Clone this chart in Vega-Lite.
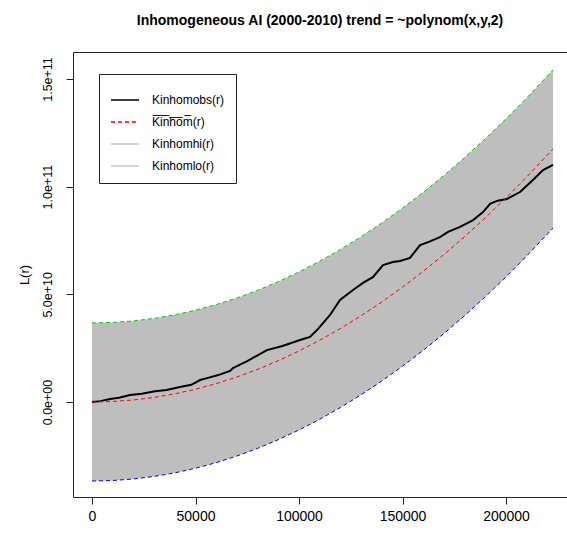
{
  "$schema": "https://vega.github.io/schema/vega-lite/v6.json",
  "width": 494,
  "height": 445,
  "autosize": {"type": "none"},
  "padding": {"left": 73, "top": 52, "right": 0, "bottom": 36},
  "background": "white",
  "title": {
    "text": "Inhomogeneous AI (2000-2010) trend = ~polynom(x,y,2)",
    "fontSize": 14,
    "fontWeight": "bold",
    "font": "Liberation Sans",
    "color": "black",
    "anchor": "middle",
    "offset": 24
  },
  "config": {
    "view": {"stroke": null},
    "font": "Liberation Sans",
    "axis": {
      "grid": false,
      "domainColor": "#222222",
      "tickColor": "#222222",
      "labelColor": "black",
      "titleColor": "black",
      "tickSize": 7,
      "labelFont": "Liberation Sans",
      "titleFont": "Liberation Sans",
      "titleFontWeight": "normal"
    }
  },
  "datasets": {
    "env": [
      {"r": 0, "theo": 0, "hi": 36700000000, "lo": -36700000000},
      {"r": 10000, "theo": 237000000, "hi": 36940000000, "lo": -36460000000},
      {"r": 20000, "theo": 948000000, "hi": 37650000000, "lo": -35750000000},
      {"r": 30000, "theo": 2130000000, "hi": 38830000000, "lo": -34570000000},
      {"r": 40000, "theo": 3790000000, "hi": 40490000000, "lo": -32910000000},
      {"r": 50000, "theo": 5930000000, "hi": 42630000000, "lo": -30770000000},
      {"r": 60000, "theo": 8530000000, "hi": 45230000000, "lo": -28170000000},
      {"r": 70000, "theo": 11610000000, "hi": 48310000000, "lo": -25090000000},
      {"r": 80000, "theo": 15170000000, "hi": 51870000000, "lo": -21530000000},
      {"r": 90000, "theo": 19200000000, "hi": 55900000000, "lo": -17500000000},
      {"r": 100000, "theo": 23700000000, "hi": 60400000000, "lo": -13000000000},
      {"r": 110000, "theo": 28680000000, "hi": 65380000000, "lo": -8020000000},
      {"r": 120000, "theo": 34130000000, "hi": 70830000000, "lo": -2570000000},
      {"r": 130000, "theo": 40050000000, "hi": 76750000000, "lo": 3350000000},
      {"r": 140000, "theo": 46450000000, "hi": 83150000000, "lo": 9750000000},
      {"r": 150000, "theo": 53330000000, "hi": 90030000000, "lo": 16630000000},
      {"r": 160000, "theo": 60670000000, "hi": 97370000000, "lo": 23970000000},
      {"r": 170000, "theo": 68490000000, "hi": 105190000000, "lo": 31790000000},
      {"r": 180000, "theo": 76790000000, "hi": 113490000000, "lo": 40090000000},
      {"r": 190000, "theo": 85560000000, "hi": 122260000000, "lo": 48860000000},
      {"r": 200000, "theo": 94800000000, "hi": 131500000000, "lo": 58100000000},
      {"r": 210000, "theo": 104520000000, "hi": 141220000000, "lo": 67820000000},
      {"r": 220000, "theo": 114710000000, "hi": 151410000000, "lo": 78010000000},
      {"r": 222700, "theo": 117540000000, "hi": 154240000000, "lo": 80840000000}
    ],
    "observed": [
      {"r": 0, "obs": 0},
      {"r": 4000, "obs": 400000000},
      {"r": 8700, "obs": 1400000000},
      {"r": 13000, "obs": 2000000000},
      {"r": 18400, "obs": 3200000000},
      {"r": 24000, "obs": 3800000000},
      {"r": 30400, "obs": 5000000000},
      {"r": 36000, "obs": 5600000000},
      {"r": 42500, "obs": 7000000000},
      {"r": 48000, "obs": 8000000000},
      {"r": 52200, "obs": 10200000000},
      {"r": 55600, "obs": 11100000000},
      {"r": 61000, "obs": 12500000000},
      {"r": 66700, "obs": 14400000000},
      {"r": 68100, "obs": 15800000000},
      {"r": 75000, "obs": 19000000000},
      {"r": 84500, "obs": 24100000000},
      {"r": 92000, "obs": 26000000000},
      {"r": 100500, "obs": 28800000000},
      {"r": 105300, "obs": 30200000000},
      {"r": 108700, "obs": 33400000000},
      {"r": 115000, "obs": 40400000000},
      {"r": 119800, "obs": 47400000000},
      {"r": 126100, "obs": 52000000000},
      {"r": 130900, "obs": 55300000000},
      {"r": 135700, "obs": 58000000000},
      {"r": 140600, "obs": 63600000000},
      {"r": 145400, "obs": 65000000000},
      {"r": 148800, "obs": 65500000000},
      {"r": 153600, "obs": 66900000000},
      {"r": 158500, "obs": 72900000000},
      {"r": 163000, "obs": 74500000000},
      {"r": 168100, "obs": 76600000000},
      {"r": 172000, "obs": 79000000000},
      {"r": 177800, "obs": 81300000000},
      {"r": 184100, "obs": 84500000000},
      {"r": 188900, "obs": 88200000000},
      {"r": 192300, "obs": 92000000000},
      {"r": 196000, "obs": 93500000000},
      {"r": 200500, "obs": 94300000000},
      {"r": 206800, "obs": 97500000000},
      {"r": 213000, "obs": 103100000000},
      {"r": 217900, "obs": 107700000000},
      {"r": 222700, "obs": 110100000000}
    ]
  },
  "resolve": {"axis": {"x": "independent"}},
  "layer": [
    {
      "data": {"name": "env"},
      "mark": {"type": "area", "color": "#bebebe", "opacity": 1},
      "encoding": {
        "x": {
          "field": "r", "type": "quantitative",
          "scale": {"domain": [-9179, 229468], "nice": false, "zero": false},
          "axis": {
            "orient": "bottom",
            "values": [0, 50000, 100000, 150000, 200000],
            "format": "d",
            "labelFontSize": 14,
            "labelPadding": 5,
            "title": null
          }
        },
        "y": {
          "field": "lo", "type": "quantitative",
          "scale": {"domain": [-44120000000, 162540000000], "nice": false, "zero": false},
          "axis": {
            "values": [0, 50000000000, 100000000000, 150000000000],
            "labelExpr": "datum.value == 0 ? '0.0e+00' : format(datum.value, '.1e')",
            "labelAngle": -90,
            "labelAlign": "center",
            "labelBaseline": "bottom",
            "labelPadding": 12,
            "labelFontSize": 12.5,
            "title": "L(r)",
            "titleFontSize": 13,
            "titlePadding": 10
          }
        },
        "y2": {"field": "hi"}
      }
    },
    {
      "data": {"name": "env"},
      "mark": {"type": "line", "color": "#00cd00", "strokeWidth": 1, "strokeDash": [4, 3]},
      "encoding": {
        "x": {"field": "r", "type": "quantitative", "axis": null},
        "y": {"field": "hi", "type": "quantitative"}
      }
    },
    {
      "data": {"name": "env"},
      "mark": {"type": "line", "color": "#0000ff", "strokeWidth": 1, "strokeDash": [4, 3]},
      "encoding": {
        "x": {"field": "r", "type": "quantitative", "axis": null},
        "y": {"field": "lo", "type": "quantitative"}
      }
    },
    {
      "data": {"name": "observed"},
      "transform": [{"fold": ["obs"], "as": ["series", "value"]}],
      "mark": {"type": "line", "strokeWidth": 2},
      "encoding": {
        "x": {"field": "r", "type": "quantitative", "axis": null},
        "y": {"field": "value", "type": "quantitative"},
        "stroke": {
          "field": "series", "type": "nominal",
          "scale": {"domain": ["obs", "theo", "hi", "lo"], "range": ["#000000", "#ff0000", "#c8c8c8", "#c8c8c8"]},
          "legend": {
            "orient": "none",
            "legendX": 26,
            "legendY": 22,
            "title": null,
            "strokeColor": "#222222",
            "fillColor": "white",
            "padding": 11,
            "symbolType": "stroke",
            "symbolSize": 784,
            "symbolStrokeWidth": 1.5,
            "labelFontSize": 12,
            "labelColor": "black",
            "labelOffset": 12,
            "rowPadding": 1,
            "labelExpr": "datum.label == 'obs' ? 'Kinhomobs(r)' : datum.label == 'theo' ? 'K\u0305i\u0305n\u0305h\u0305o\u0305m\u0305(r)' : datum.label == 'hi' ? 'Kinhomhi(r)' : 'Kinhomlo(r)'",
            "encode": {
              "symbols": {
                "update": {
                  "stroke": {"scale": "stroke", "field": "value"},
                  "strokeDash": {"signal": "datum.value == 'theo' ? [4, 3] : [1, 0]"}
                }
              }
            }
          }
        }
      }
    },
    {
      "data": {"name": "env"},
      "transform": [{"fold": ["theo"], "as": ["series", "value"]}],
      "mark": {"type": "line", "strokeWidth": 1, "strokeDash": [4, 3]},
      "encoding": {
        "x": {"field": "r", "type": "quantitative", "axis": null},
        "y": {"field": "value", "type": "quantitative"},
        "stroke": {"field": "series", "type": "nominal"}
      }
    },
    {
      "data": {"name": "env"},
      "mark": {"type": "point", "opacity": 0},
      "encoding": {
        "x": {
          "field": "r", "type": "quantitative",
          "axis": {"orient": "top", "labels": false, "ticks": false, "domain": true, "title": null}
        }
      }
    }
  ]
}
